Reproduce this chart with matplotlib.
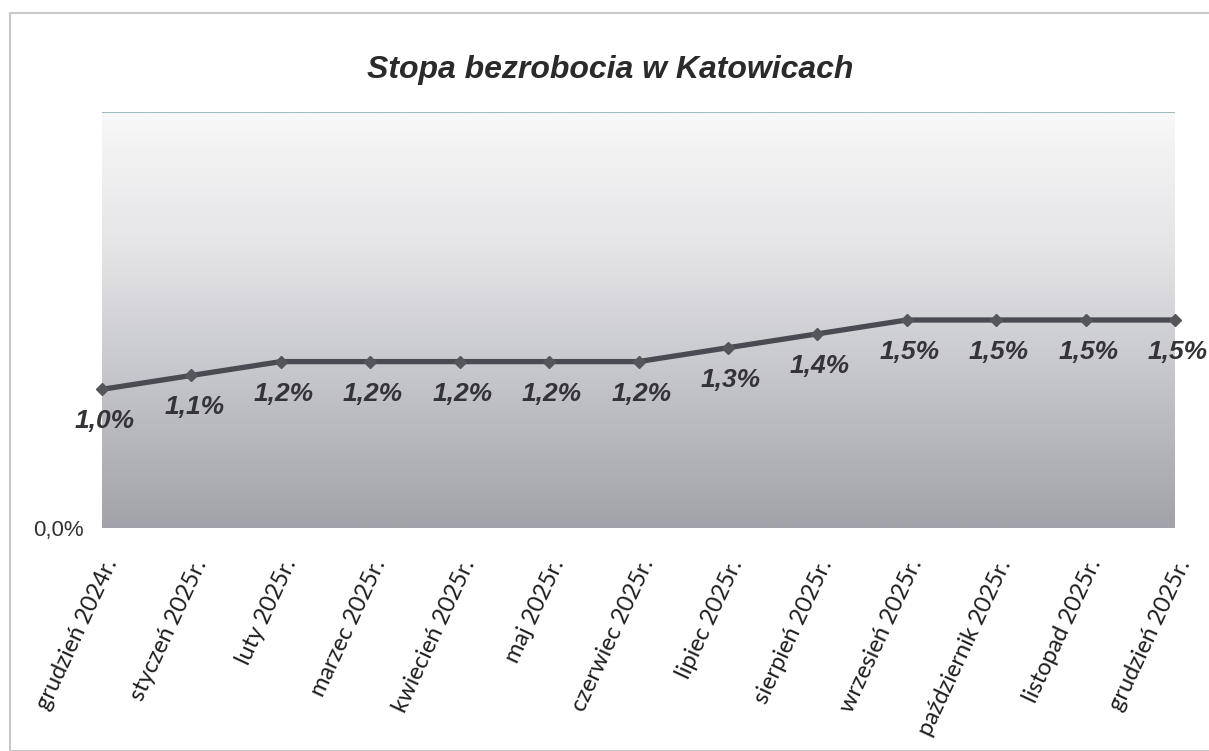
import numpy as np
import matplotlib.pyplot as plt
from matplotlib.patches import Rectangle
from matplotlib.colors import LinearSegmentedColormap

months = ['grudzień 2024r.', 'styczeń 2025r.', 'luty 2025r.', 'marzec 2025r.',
          'kwiecień 2025r.', 'maj 2025r.', 'czerwiec 2025r.', 'lipiec 2025r.',
          'sierpień 2025r.', 'wrzesień 2025r.', 'październik 2025r.',
          'listopad 2025r.', 'grudzień 2025r.']
rate = [1.0, 1.1, 1.2, 1.2, 1.2, 1.2, 1.2, 1.3, 1.4, 1.5, 1.5, 1.5, 1.5]

fig = plt.figure(figsize=(12.09, 7.51), dpi=100)
ax = fig.add_axes([102/1209, 1-528/751, (1175-102)/1209, (528-112)/751])

x = np.arange(len(months))
ax.set_xlim(0, len(months) - 1)
ax.set_ylim(0, 3.0)

# gradient background of plot area
grad = np.linspace(0, 1, 256).reshape(-1, 1)
cmap = LinearSegmentedColormap.from_list('bg', ['#a2a3aa', '#c2c3c8', '#e4e4e7', '#f8f8f8'])
ax.imshow(grad, cmap=cmap, aspect='auto', origin='lower',
          extent=[0, len(months) - 1, 0, 3.0], zorder=0)
ax.axhline(3.0, color='#8fb0b0', lw=1.2, zorder=1)

ax.plot(x, rate, color='#4a4a52', lw=3.8, marker='D', markersize=6,
        markerfacecolor='#55555c', markeredgecolor='#55555c', zorder=3,
        clip_on=False)

for xi, v in zip(x, rate):
    ax.annotate(f'{v:.1f}%'.replace('.', ','), (xi, v), xytext=(2, -23),
                textcoords='offset points', ha='center', va='center',
                fontsize=19, fontweight='bold', fontstyle='italic',
                family='Liberation Sans', color='#333338', zorder=4)

for s in ax.spines.values():
    s.set_visible(False)
ax.set_yticks([0])
ax.set_yticklabels(['0,0%'], family='Liberation Sans', fontsize=16, color='#333333')
ax.set_xticks(x)
ax.set_xticklabels(months, rotation=65, ha='right', rotation_mode='anchor',
                   family='Lato', fontsize=17, color='#1e1e1e')
ax.tick_params(axis='x', length=0, pad=20)
ax.tick_params(axis='y', length=0, pad=13)

fig.text(0.505, 1-70/751, 'Stopa bezrobocia w Katowicach', ha='center', va='center',
         fontsize=23, fontweight='bold', fontstyle='italic',
         family='Liberation Sans', color='#2a2a2a')

fig.patches.append(Rectangle((10/1209, 0), 1.2, 1-13/751, transform=fig.transFigure,
                             fill=False, edgecolor='#c8c8c8', lw=1.5))

fig.savefig('out.png', dpi=100)
